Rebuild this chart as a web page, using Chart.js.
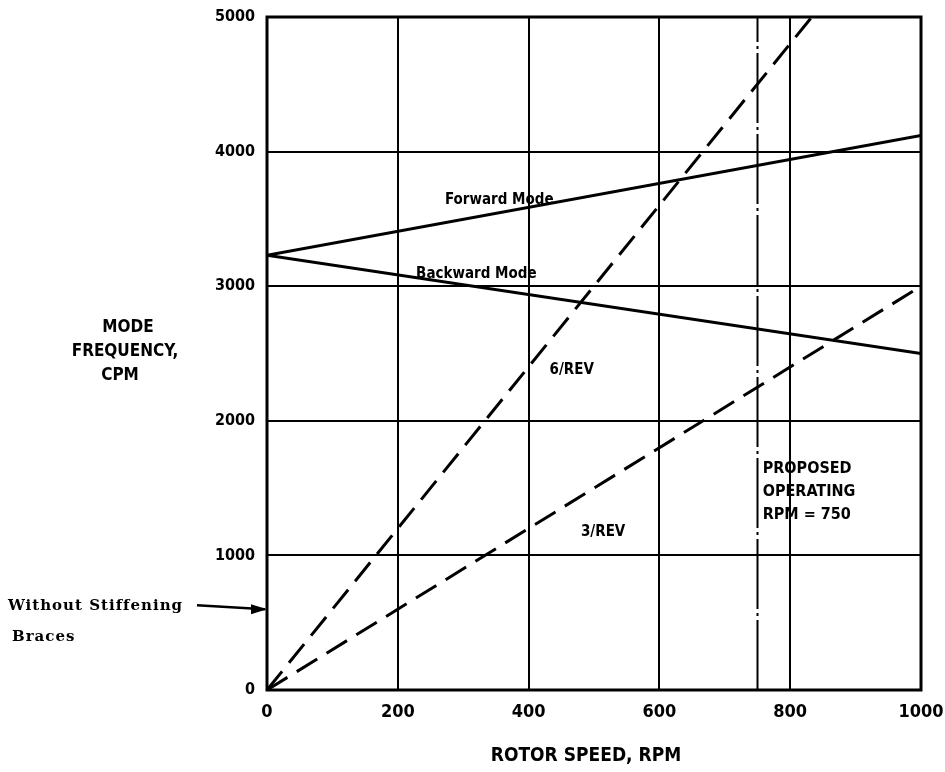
<!DOCTYPE html>
<html>
<head>
<meta charset="utf-8">
<script src="https://cdn.jsdelivr.net/npm/chart.js@4"></script>
<style>
  body { margin: 0; background: #fff; overflow: hidden; }
  #wrap { width: 945px; height: 772px; }
</style>
</head>
<body>
<div id="wrap"><canvas id="modeChart"></canvas></div>
<script>
// values
const rpm = [0, 1000];
const forwardMode = [3230, 4120];
const backwardMode = [3230, 2500];
const rev6Rpm = [0, 833];
const rev6 = [0, 5000];
const rev3Rpm = [0, 1000];
const rev3 = [0, 3000];
const operatingRpm = [750, 750];
const operatingSpan = [0, 5000];
const xTicks = [0, 200, 400, 600, 800, 1000];
const yTicks = [0, 1000, 2000, 3000, 4000, 5000];
const withoutBraces = 600;

const condensed = '"Liberation Sans Narrow", "DejaVu Sans Condensed", sans-serif';

function pts(xs, ys) {
    return xs.map((x, i) => ({ x: x, y: ys[i] }));
}

// text labels, arrow and axis titles drawn on top of the plot
const labelsPlugin = {
    id: 'labels',
    afterDraw(chart) {
        const ctx = chart.ctx;
        const x = chart.scales.x, y = chart.scales.y;
        ctx.save();
        ctx.fillStyle = '#000';
        ctx.textBaseline = 'middle';

        ctx.font = 'bold 15px ' + condensed;
        ctx.textAlign = 'left';
        ctx.fillText('Forward Mode', x.getPixelForValue(272), y.getPixelForValue(3640));
        ctx.fillText('Backward Mode', x.getPixelForValue(228), y.getPixelForValue(3090));
        ctx.fillText('6/REV', x.getPixelForValue(432), y.getPixelForValue(2380));
        ctx.fillText('3/REV', x.getPixelForValue(480), y.getPixelForValue(1170));

        ctx.font = 'bold 16px ' + condensed;
        ctx.fillText('PROPOSED', x.getPixelForValue(758), y.getPixelForValue(1640));
        ctx.fillText('OPERATING', x.getPixelForValue(758), y.getPixelForValue(1470));
        ctx.fillText('RPM = 750', x.getPixelForValue(758), y.getPixelForValue(1300));

        // y title, horizontal and stacked
        ctx.font = 'bold 17px ' + condensed;
        ctx.textAlign = 'center';
        ctx.fillText('MODE', 128, 328);
        ctx.fillText('FREQUENCY,', 125, 352);
        ctx.fillText('CPM', 120, 376);

        // x title
        ctx.font = 'bold 19px ' + condensed;
        ctx.fillText('ROTOR SPEED, RPM', x.getPixelForValue(500) - 8, 756);

        // note with arrow
        const ay = y.getPixelForValue(withoutBraces);
        ctx.font = 'bold 15px "DejaVu Serif", "Liberation Serif", serif';
        ctx.textAlign = 'left';
        ctx.letterSpacing = '1px';
        ctx.fillText('Without Stiffening', 8, ay - 3);
        ctx.fillText('Braces', 12, ay + 28);
        ctx.letterSpacing = '0px';
        ctx.strokeStyle = '#000';
        ctx.lineWidth = 2.5;
        ctx.beginPath();
        ctx.moveTo(197, ay - 4);
        ctx.lineTo(x.left - 2, ay);
        ctx.stroke();
        ctx.beginPath();
        ctx.moveTo(x.left, ay);
        ctx.lineTo(x.left - 16, ay - 5);
        ctx.lineTo(x.left - 16, ay + 5);
        ctx.closePath();
        ctx.fill();

        // frame
        ctx.lineWidth = 3;
        ctx.strokeRect(x.left, y.top, x.right - x.left, y.bottom - y.top);
        ctx.restore();
    }
};

new Chart(document.getElementById('modeChart'), {
    type: 'scatter',
    data: {
        datasets: [
            { label: 'Forward Mode', data: pts(rpm, forwardMode), showLine: true,
              borderColor: '#000', borderWidth: 3, pointRadius: 0 },
            { label: 'Backward Mode', data: pts(rpm, backwardMode), showLine: true,
              borderColor: '#000', borderWidth: 3, pointRadius: 0 },
            { label: '6/REV', data: pts(rev6Rpm, rev6), showLine: true,
              borderColor: '#000', borderWidth: 3, borderDash: [24, 11], pointRadius: 0 },
            { label: '3/REV', data: pts(rev3Rpm, rev3), showLine: true,
              borderColor: '#000', borderWidth: 3, borderDash: [24, 11], pointRadius: 0 },
            { label: 'Operating', data: pts(operatingRpm, operatingSpan), showLine: true,
              borderColor: '#000', borderWidth: 2, borderDash: [70, 4, 3, 4], pointRadius: 0 }
        ]
    },
    options: {
        responsive: true,
        maintainAspectRatio: false,
        animation: false,
        layout: { padding: { top: 17, right: 24, left: 0, bottom: 0 } },
        plugins: {
            legend: { display: false },
            tooltip: { enabled: false }
        },
        scales: {
            x: {
                type: 'linear', min: 0, max: 1000,
                afterBuildTicks: s => { s.ticks = xTicks.map(v => ({ value: v })); },
                afterFit: s => { s.height = 82; s.paddingLeft = 0; s.paddingRight = 0; },
                grid: { color: '#000', lineWidth: 2, drawTicks: false },
                border: { display: false },
                ticks: { color: '#000', padding: 12, callback: v => String(v),
                         font: { family: condensed, size: 18, weight: 'bold' } }
            },
            y: {
                type: 'linear', min: 0, max: 5000,
                afterBuildTicks: s => { s.ticks = yTicks.map(v => ({ value: v })); },
                afterFit: s => { s.width = 267; s.paddingTop = 0; s.paddingBottom = 0; },
                grid: { color: '#000', lineWidth: 2, drawTicks: false },
                border: { display: false },
                ticks: { color: '#000', padding: 12, callback: v => String(v),
                         font: { family: condensed, size: 16, weight: 'bold' } }
            }
        }
    },
    plugins: [labelsPlugin]
});
</script>
</body>
</html>
